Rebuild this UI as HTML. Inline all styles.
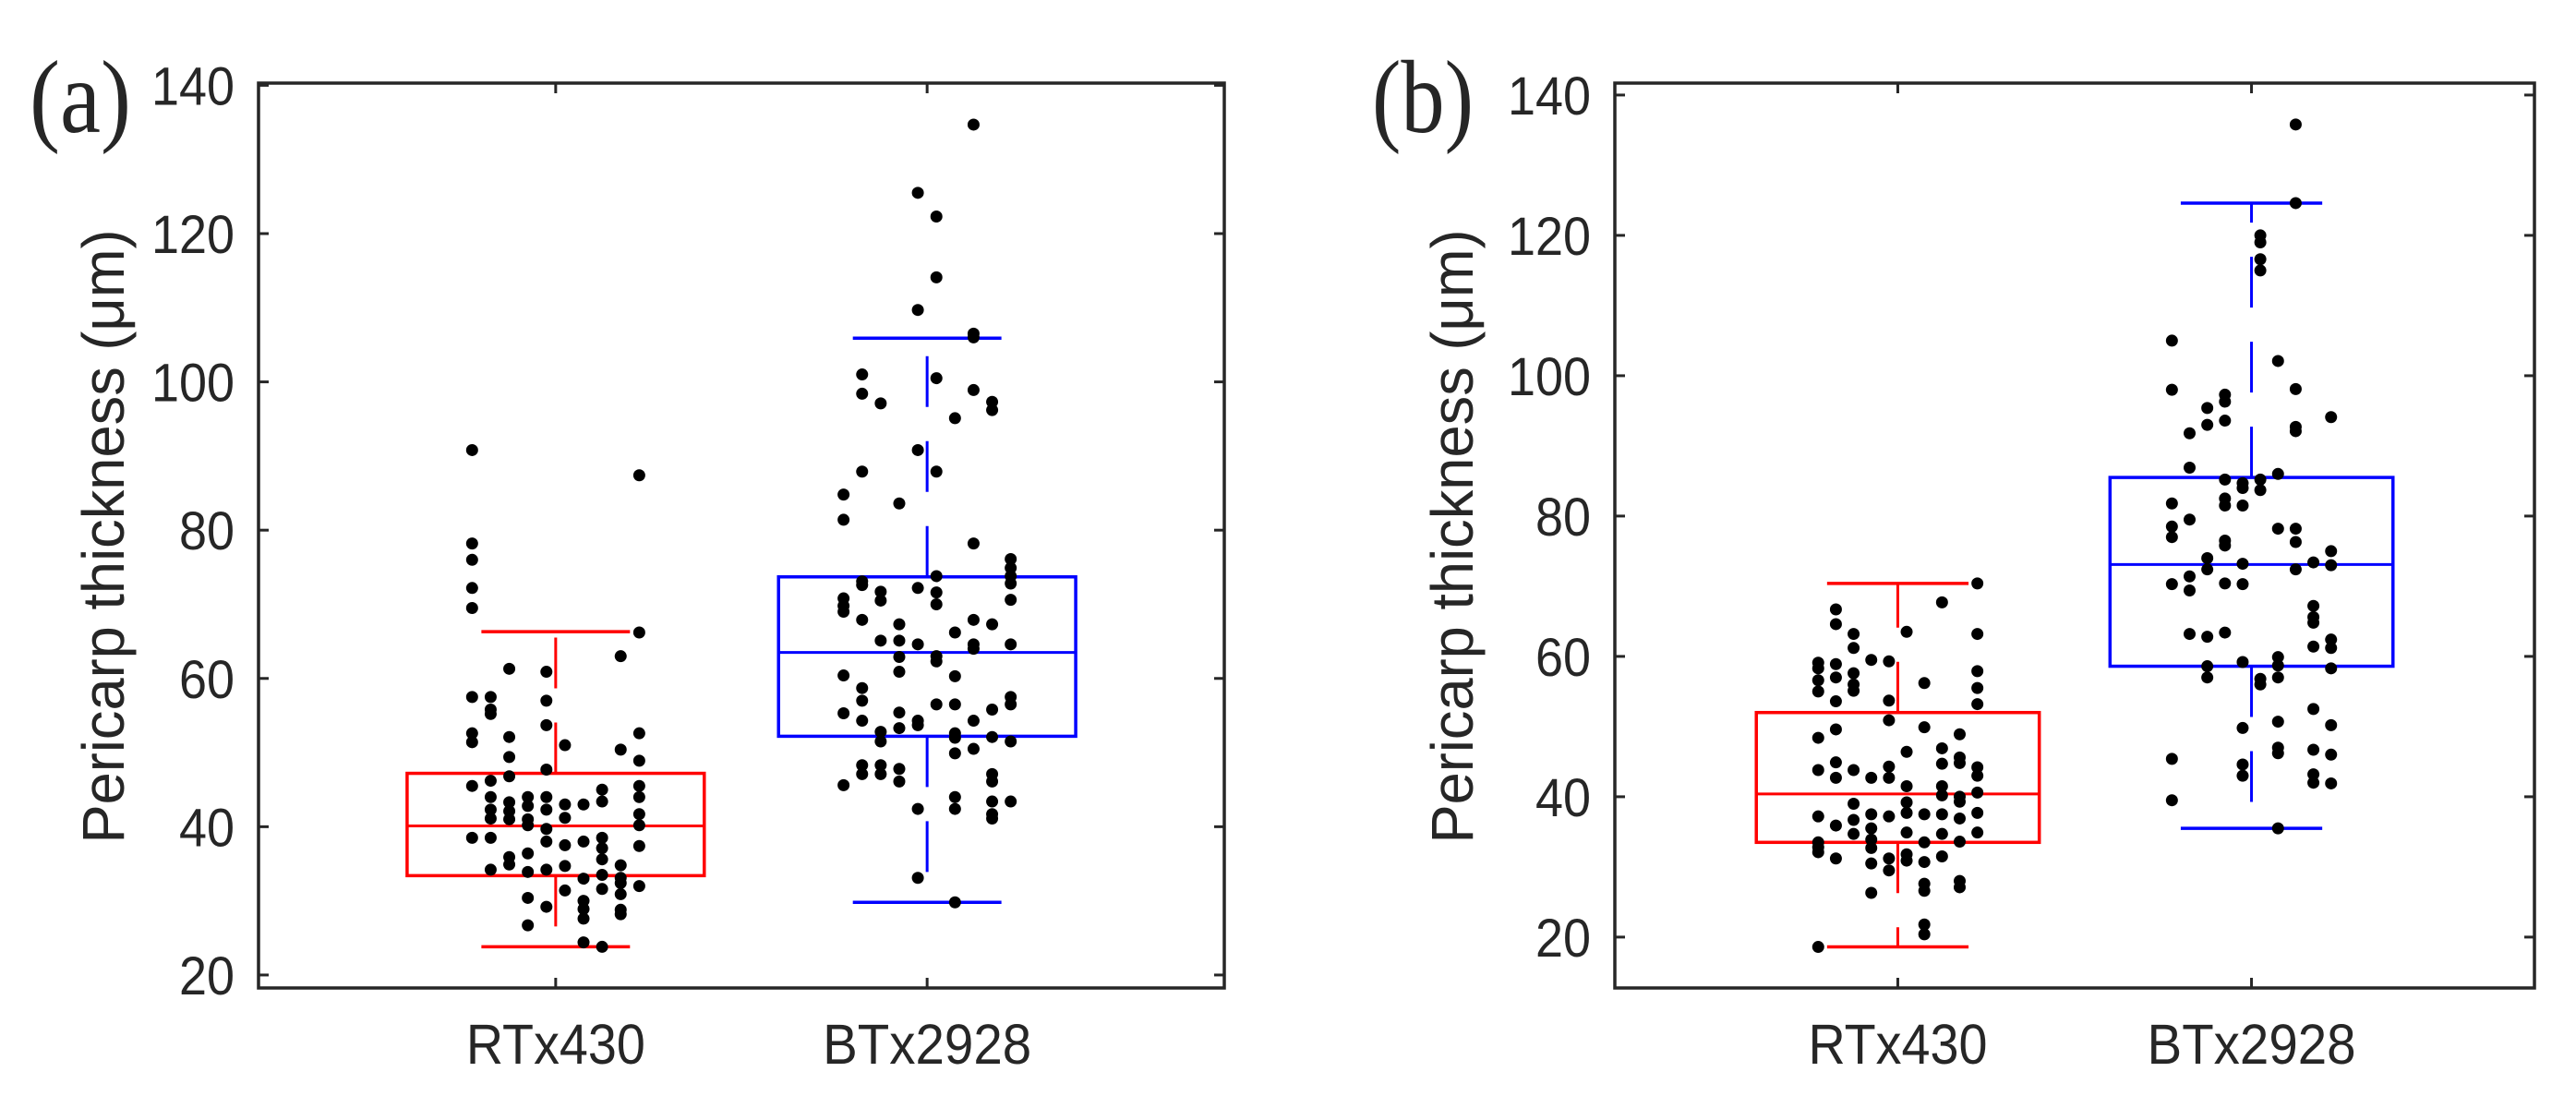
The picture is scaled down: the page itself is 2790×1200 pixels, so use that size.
<!DOCTYPE html>
<html><head><meta charset="utf-8"><style>
html,body{margin:0;padding:0;background:#fff;overflow:hidden;}
svg{display:block;}
text{font-family:"Liberation Sans",Arial,sans-serif;fill:#262626;}
</style></head>
<body>
<svg id="fig" width="2790" height="1200" viewBox="0 0 2790 1200" xmlns="http://www.w3.org/2000/svg"></svg>
<script>
// ---- data ----
const categories = ["RTx430", "BTx2928"];
const yTicks = [20, 40, 60, 80, 100, 120, 140];
// jitter columns: offset = -0.225 + 0.05*k, values per column
const aRTx = [
 [90.8,78.2,76,72.2,69.5,57.5,52.6,51.4,45.5,38.5],
 [57.5,55.8,55.2,46.2,44,42.3,41.1,38.5,34.2],
 [61.3,52.1,49.4,46.8,43.3,42.1,41,35.9,34.9],
 [44,42.8,41,40.2,36.4,33.9,30.4,26.7],
 [60.9,57,53.7,47.7,44,42.3,39.7,38,34.2,29.2],
 [51,43,41.2,37.5,34.7,31.4],
 [43,38,33,30,28.9,27.6,24.4],
 [45,43.4,38.5,37.1,35.6,33.5,31.6,23.8],
 [63,50.4,34.8,33.1,32.4,30.9,28.8,28.2],
 [87.4,66.2,52.6,48.9,45.5,44,41.7,40.2,37.4,32]
];
const aBTx = [
 [84.8,81.4,60.4,55.3,45.6,70.8,69.8,69],
 [101,98.4,87.9,73.1,72.6,67.9,58.7,57,54.3,48.3,47.1],
 [97.1,71.7,70.5,65.1,52.8,51.5,48.3,47.1],
 [83.6,67.3,65.1,62.9,60.9,55.4,53.3,47.8,46.1],
 [125.5,109.7,90.8,72.2,64.6,54.3,53.7,42.4,33.1],
 [122.3,114.1,100.5,87.9,73.8,71.6,70,63,62.3,56.5],
 [95.1,66.2,60.3,56.5,52.6,52,49.9,44,42.4,29.8],
 [134.7,106.5,106,98.9,78.2,67.9,64.6,64,54.3,50.5],
 [97.3,96.2,67.3,55.8,52.1,47.1,46.1,43.4,41.7,41.1],
 [76.1,74.9,73.8,72.8,70.6,64.6,57.5,56.5,51.5,43.4]
];
const bRTx = [
 [59.1,58.3,56.6,55,48.4,43.8,37.2,33.5,32.8,32.1,18.6],
 [66.7,64.6,58.9,57,53.6,49.6,44.9,42.7,35.9,31.2],
 [63.2,61.2,57.6,56,55.1,43.8,39,36.7,34.7],
 [59.5,42.7,37.5,35.5,33.9,32.7,30.5,26.3],
 [59.3,53.7,50.9,44.3,42.7,37.2,31.2,29.5],
 [63.5,46.4,41.5,39.2,37.7,34.9,31.8,30.9],
 [56.2,49.9,37.5,33.5,30.7,27.6,26.6,21.8,20.4],
 [67.7,46.9,44.7,41.5,40.2,37.5,34.7,31.5],
 [48.9,45.6,44.8,40,39.3,36.9,33.6,28,27.1],
 [70.4,63.2,57.9,55.5,53.2,44.2,43,40.6,37.7,34.9]
];
const bBTx = [
 [105,98,81.8,78.5,77,70.3,45.4,39.5],
 [91.8,86.9,79.5,71.4,69.4,63.2],
 [95.4,93,74,72.4,62.8,58.6,57],
 [97.3,96.3,93.6,85.2,82.5,81.5,76.5,75.8,70.4,63.4],
 [84.7,84,81.5,73.2,70.3,59.2,49.8,44.6,43],
 [120,119,116.6,115,85.2,83.7,56.8,56],
 [102.1,86,78.2,59.9,58.7,57,50.7,47,46.2,35.5],
 [135.8,124.6,98.1,92.7,92.1,78.2,76.3,72.4],
 [73.4,67.2,65.6,64.8,61.4,52.5,46.7,43.2,42],
 [94.1,75,73,62.4,61.2,58.3,50.2,46,41.9]
];
// box stats: [lowWhisker, q1, median, q3, highWhisker]
const aRTxStats = [23.8, 33.4, 40.1, 47.2, 66.3];
const aBTxStats = [29.8, 52.2, 63.5, 73.7, 105.9];
const bRTxStats = [18.6, 33.5, 40.4, 52.0, 70.4];
const bBTxStats = [35.5, 58.6, 73.1, 85.5, 124.6];

const NS = "http://www.w3.org/2000/svg";
const svg = document.getElementById("fig");
function mk(tag, attrs, parent) {
  const e = document.createElementNS(NS, tag);
  for (const k in attrs) e.setAttribute(k, attrs[k]);
  (parent || svg).appendChild(e);
  return e;
}

function panel(cfg) {
  const g = mk("g", {});
  
  
  const L = cfg.left, R = cfg.right, T = 90, B = 1070;
  const xs = v => L + (v - 0.2) / 2.6 * (R - L);
  const ys = v => B - (v - cfg.ymin) / (cfg.ymax - cfg.ymin) * (B - T);
  const ax = "#262626";
  yTicks.forEach(t => {
    const y = ys(t);
    const tl = mk("line", {x1: L, x2: L + 11, y1: y, y2: y, stroke: ax, "stroke-width": 3}, g);
    
    
    mk("line", {x1: R, x2: R - 11, y1: y, y2: y, stroke: ax, "stroke-width": 3}, g);
    const tx = mk("text", {x: L - 26, y: y + 21, "text-anchor": "end", "font-size": 58, textLength: (t < 100 ? 60 : 90), lengthAdjust: "spacingAndGlyphs"}, g);
    tx.textContent = t;
    
    
  });
  categories.forEach((c, i) => {
    const x = xs(i + 1);
    mk("line", {x1: x, x2: x, y1: B, y2: B - 11, stroke: ax, "stroke-width": 3}, g);
    mk("line", {x1: x, x2: x, y1: T, y2: T + 11, stroke: ax, "stroke-width": 3}, g);
    const tx = mk("text", {x: x, y: 1152, "text-anchor": "middle", "font-size": 61, textLength: (i ? 226 : 194), lengthAdjust: "spacingAndGlyphs"}, g);
    tx.textContent = c;
    
    
  });
  const colors = ["#ff0000", "#0000ff"];
  [cfg.stats1, cfg.stats2].forEach((s, i) => {
    const c = colors[i], x = xs(i + 1);
    const bg = mk("g", {}, g);
    
    
    mk("line", {x1: x, x2: x, y1: ys(s[3]), y2: ys(s[4]), stroke: c, "stroke-width": 3, "stroke-dasharray": "55 37"}, bg);
    mk("line", {x1: x, x2: x, y1: ys(s[1]), y2: ys(s[0]), stroke: c, "stroke-width": 3, "stroke-dasharray": "55 37"}, bg);
    mk("line", {x1: xs(i + 0.8), x2: xs(i + 1.2), y1: ys(s[4]), y2: ys(s[4]), stroke: c, "stroke-width": 3.5}, bg);
    mk("line", {x1: xs(i + 0.8), x2: xs(i + 1.2), y1: ys(s[0]), y2: ys(s[0]), stroke: c, "stroke-width": 3.5}, bg);
    mk("rect", {x: xs(i + 0.6), y: ys(s[3]), width: xs(i + 1.4) - xs(i + 0.6), height: ys(s[1]) - ys(s[3]), fill: "none", stroke: c, "stroke-width": 3.5}, bg);
    mk("line", {x1: xs(i + 0.6), x2: xs(i + 1.4), y1: ys(s[2]), y2: ys(s[2]), stroke: c, "stroke-width": 3}, bg);
  });
  [cfg.d1, cfg.d2].forEach((cols, i) => {
    cols.forEach((vals, k) => {
      const off = -0.225 + 0.05 * k;
      vals.forEach(v => {
        const p = mk("circle", {cx: xs(i + 1 + off), cy: ys(v), r: 6.5, fill: "#000"}, g);
        
        
      });
    });
  });
  const fr = mk("rect", {x: L, y: T, width: R - L, height: B - T, fill: "none", stroke: ax, "stroke-width": 3.5}, g);
  
  
  const yl = mk("text", {x: 0, y: 0, "text-anchor": "middle", "font-size": 64, transform: "translate(" + cfg.ylx + ",581) rotate(-90)", textLength: 665, lengthAdjust: "spacingAndGlyphs"}, g);
  yl.textContent = "Pericarp thickness (μm)";
  
  
  const pl = mk("text", {x: cfg.plx, y: 143, "font-size": 112, textLength: 110, lengthAdjust: "spacingAndGlyphs", style: "font-family:'Liberation Serif',serif"}, g);
  pl.textContent = cfg.label;
  
  
}

panel({name: "panel-a", left: 280, right: 1326, ymin: 18.25, ymax: 140.3, stats1: aRTxStats, stats2: aBTxStats, d1: aRTx, d2: aBTx, ylx: 134, plx: 32, label: "(a)"});
panel({name: "panel-b", left: 1749, right: 2745, ymin: 12.75, ymax: 141.7, stats1: bRTxStats, stats2: bBTxStats, d1: bRTx, d2: bBTx, ylx: 1595, plx: 1486, label: "(b)"});
</script>
</body></html>
